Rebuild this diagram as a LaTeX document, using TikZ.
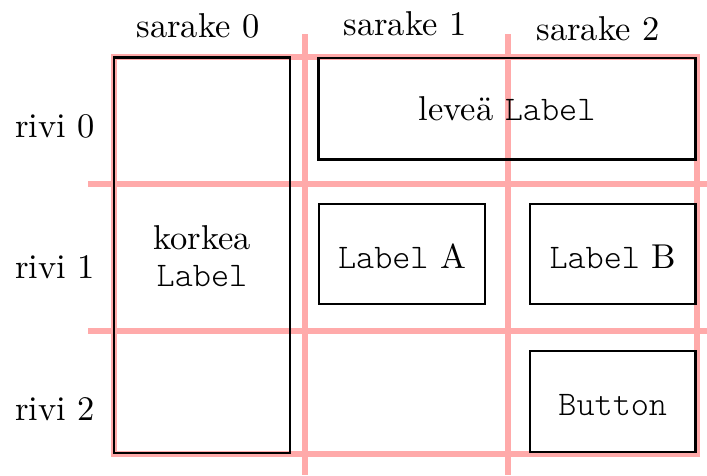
\documentclass[tikz,border=0pt]{standalone}
\usepackage{fontspec}
\setmainfont{lmroman10-regular.otf}
\setmonofont{lmmonolt10-regular.otf}
\begin{document}
\begin{tikzpicture}[x=1pt,y=-1pt,
  gridline/.style={draw=gridpink,line width=6pt},
  widget/.style={draw=black,line width=2.7pt,rectangle,inner sep=0pt,outer sep=0pt,align=center},
  lowered/.style={text height=28.5pt,text depth=0pt},
  caption/.style={font=\fontsize{34.5}{38}\selectfont,inner sep=0pt,anchor=base}]
\definecolor{gridpink}{RGB}{255,170,170}
\useasboundingbox (0,0) rectangle (707,475);
\fill[white] (0,0) rectangle (707,475);

% grid lines of the layout
\draw[gridline] (113.5,57) rectangle (697,453.5);
\draw[gridline] (305,34) -- (305,475);
\draw[gridline] (508,34) -- (508,475);
\draw[gridline] (88,183.5) -- (707,183.5);
\draw[gridline] (88,331) -- (707,331);

% column and row headings
\node[caption] (c0) at (198,37.5) {sarake 0};
\node[caption] (c1) at (405,35.5) {sarake 1};
\node[caption] (c2) at (598,40.5) {sarake 2};
\node[caption] (r0) at (55,137) {rivi 0};
\node[caption] (r1) at (55,278) {rivi 1};
\node[caption] (r2) at (55,420) {rivi 2};

% widgets placed in the grid
\begin{scope}[font=\fontsize{34.5}{36.5}\selectfont]
\node[widget,text height=61.5pt,text depth=0pt,minimum width=176pt,minimum height=395.5pt] (tall) at (202,255.25)
  {korkea\\\ttfamily Label};
\node[widget,minimum width=377pt,minimum height=101.5pt] (wide) at (507,108.75)
  {leveä \texttt{Label}};
\node[widget,lowered,minimum width=166pt,minimum height=100pt] (la) at (402,254)
  {\texttt{Label} A};
\node[widget,lowered,minimum width=165.5pt,minimum height=100pt] (lb) at (612.75,254)
  {\texttt{Label} B};
\node[widget,lowered,minimum width=165.5pt,minimum height=101pt] (btn) at (612.75,401.5)
  {\texttt{Button}};
\end{scope}
\end{tikzpicture}
\end{document}
